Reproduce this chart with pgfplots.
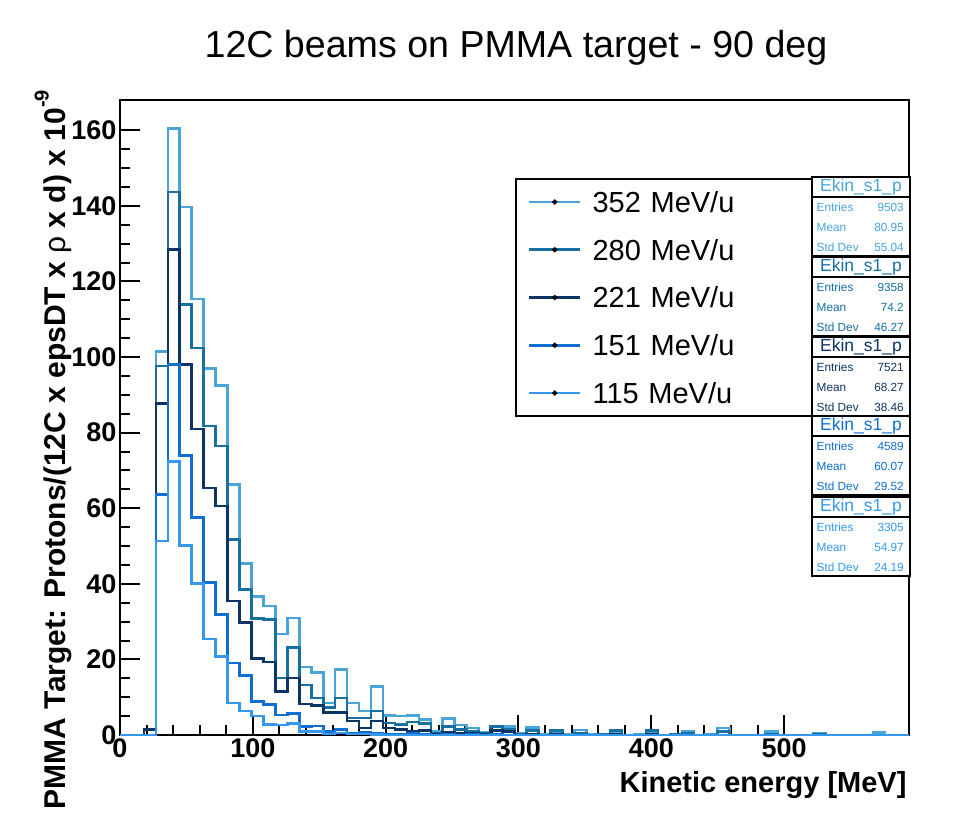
\documentclass[border=0pt]{standalone}
\usepackage{fontspec}
\setmainfont{Liberation Sans}
\usepackage{pgfplots}
\pgfplotsset{compat=1.18}
\usepackage{pgfplotstable}
\definecolor{cA}{RGB}{72,165,214}
\definecolor{cB}{RGB}{22,112,162}
\definecolor{cC}{RGB}{12,52,100}
\definecolor{cD}{RGB}{14,110,210}
\definecolor{cE}{RGB}{52,152,240}

\pgfplotstableread{
x a b c d e
0 0 0 0 0 0
9 0 0 0 0 0
18 0 0 1.4 0 0
27 101.4 97.6 87.7 63.6 51.3
36 160.4 143.7 128.4 98.0 72.4
45 139.7 113.9 98.0 73.9 50.1
54 115.4 102.4 81.0 57.6 40.1
63 97.0 81.7 65.4 40.4 25.4
72 92.5 76.5 60.6 31.9 20.7
81 66.2 51.7 35.4 19.1 8.5
90 45.4 38.5 29.8 15.7 6.3
99 36.7 30.8 20.3 8.9 5.0
108 34.1 30.6 19.3 8.1 2.8
117 26.7 15.1 11.5 5.3 2.6
126 31.0 23.1 15.1 5.7 3.1
135 18.0 13.2 8.2 2.3 1.0
144 16.5 9.8 7.8 2.4 1.0
153 8.5 7.2 5.9 1.0 0.3
162 17.3 9.8 5.9 1.5 0.5
171 8.5 4.5 3.7 0.5 0.3
180 6.3 4.5 1.9 0.8 0.3
189 12.8 6.3 3.7 0.5 0.2
198 5.2 3.2 1.9 0.3 0
207 5.0 2.8 1.5 0.3 0
216 5.2 3.4 1.0 0.5 0
225 4.1 3.0 1.2 0.3 0
234 1.0 0.5 0.3 0 0
243 4.3 2.3 0.8 0.3 0
252 2.6 1.5 0.5 0 0
261 1.9 1.0 0.5 0.2 0
270 0.7 0.5 0.3 0 0
279 2.3 2.3 1.2 0.2 0
288 2.3 1.6 1.0 0 0
297 0.5 0.3 0 0 0
306 2.0 1.2 0.3 0 0
315 0.3 0 0 0 0
324 1.0 1.2 0.3 0 0
333 0.3 0 0 0 0
342 1.3 0.5 0 0 0
351 0.3 0 0 0 0
360 0 0.3 0 0 0
369 0.6 1.2 0.3 0 0
378 0 0 0 0 0
387 0.3 0 0 0 0
396 1.0 1.2 0.3 0 0
405 0 0 0 0 0
414 0 0.3 0 0 0
423 1.0 0.5 0 0 0
432 0 0 0 0 0
441 0.3 0 0 0 0
450 1.8 1.0 0 0 0
459 0 0 0 0 0
468 0 0 0 0 0
477 0 0 0 0 0
486 1.0 0.3 0 0 0
495 0 0 0 0 0
504 0 0 0 0 0
513 0 0 0 0 0
522 0.5 0.3 0 0 0
531 0 0 0 0 0
540 0 0 0 0 0
549 0 0 0 0 0
558 0 0 0 0 0
567 0.6 0 0 0 0
576 0 0 0 0 0
585 0 0 0 0 0
594 0 0 0 0 0
}\hist

\newcommand{\statbox}[5]{%
  \draw[line width=2pt, fill=white] (692,#1) rectangle (790,#1-20);
  \node[text=#2, font=\fontsize{17.5}{17.5}\selectfont] at (741,#1-10) {Ekin\_s1\_p};
  \draw[line width=2pt, fill=white] (692,#1-20) rectangle (790,#1-79);
  \begin{scope}[every node/.style={text=#2, font=\fontsize{11.8}{11.8}\selectfont, inner sep=0pt}]
  \node[anchor=west] at (696.5,#1-30.5) {Entries};
  \node[anchor=east] at (784,#1-30.5) {#3};
  \node[anchor=west] at (696.5,#1-50.5) {Mean};
  \node[anchor=east] at (784,#1-50.5) {#4};
  \node[anchor=west] at (696.5,#1-70.5) {Std Dev};
  \node[anchor=east] at (784,#1-70.5) {#5};
  \end{scope}
}

\begin{document}
\begin{tikzpicture}[x=1pt,y=1pt]
\path[use as bounding box] (-120,-84) rectangle (843,735);
\begin{axis}[
  at={(0pt,0pt)}, anchor=south west,
  scale only axis, width=789pt, height=635pt,
  xmin=0, xmax=594, ymin=0, ymax=168,
  xtick={0,100,...,500}, minor x tick num=4,
  ytick={0,20,...,160}, minor y tick num=3,
  tick pos=left, tick align=inside,
  major tick length=20pt, minor tick length=10pt,
  every tick/.style={black, line width=2pt},
  axis line style={line width=2.5pt},
  /pgf/number format/assume math mode=true,
  ticklabel style={font=\fontsize{27}{27}\selectfont\bfseries},
  clip=false,
  legend cell align=left,
  legend style={at={(axis description cs:0.5006,0.8772)}, anchor=north west,
    draw=black, line width=2pt, fill=white,
    inner xsep=12pt, inner ysep=12.5pt, row sep=26.75pt, column sep=11pt,
    font=\fontsize{29}{29}\selectfont,
    nodes={inner sep=0pt, text height=21pt, text depth=0pt, text width=212pt}},
  legend image code/.code={%
    \draw[mark repeat=2, mark phase=2, #1] plot coordinates {(0pt,0pt) (25.5pt,0pt) (51pt,0pt)};
    \fill[black] (25.5pt,0pt) circle (1.1pt);},
]
\addplot[const plot mark left, cA, line width=2.6pt] table[x=x, y=a] {\hist};
\addlegendentry{352 MeV/u}
\addplot[const plot mark left, cB, line width=2.6pt] table[x=x, y=b] {\hist};
\addlegendentry{280 MeV/u}
\addplot[const plot mark left, cC, line width=2.6pt] table[x=x, y=c] {\hist};
\addlegendentry{221 MeV/u}
\addplot[const plot mark left, cD, line width=2.6pt] table[x=x, y=d] {\hist};
\addlegendentry{151 MeV/u}
\addplot[const plot mark left, cE, line width=2.6pt] table[x=x, y=e] {\hist};
\addlegendentry{115 MeV/u}
\end{axis}
\node[font=\fontsize{37.6}{37.6}\selectfont] at (396,687) {12C beams on PMMA target - 90 deg};
\node[font=\fontsize{29}{29}\selectfont\bfseries, anchor=east] at (790,-50) {Kinetic energy [MeV]};
\node[font=\fontsize{30}{30}\selectfont\bfseries, rotate=90, anchor=east, inner sep=0pt] at (-67,645)
  {PMMA Target: Protons/(12C x epsDT x {\mdseries ρ} x d) x 10\raisebox{0.55em}{\fontsize{20}{20}\selectfont -9}};
\statbox{558.3}{cA}{9503}{80.95}{55.04}
\statbox{478.3}{cB}{9358}{74.2}{46.27}
\statbox{398.3}{cC}{7521}{68.27}{38.46}
\statbox{319.3}{cD}{4589}{60.07}{29.52}
\statbox{238.3}{cE}{3305}{54.97}{24.19}
\end{tikzpicture}
\end{document}
